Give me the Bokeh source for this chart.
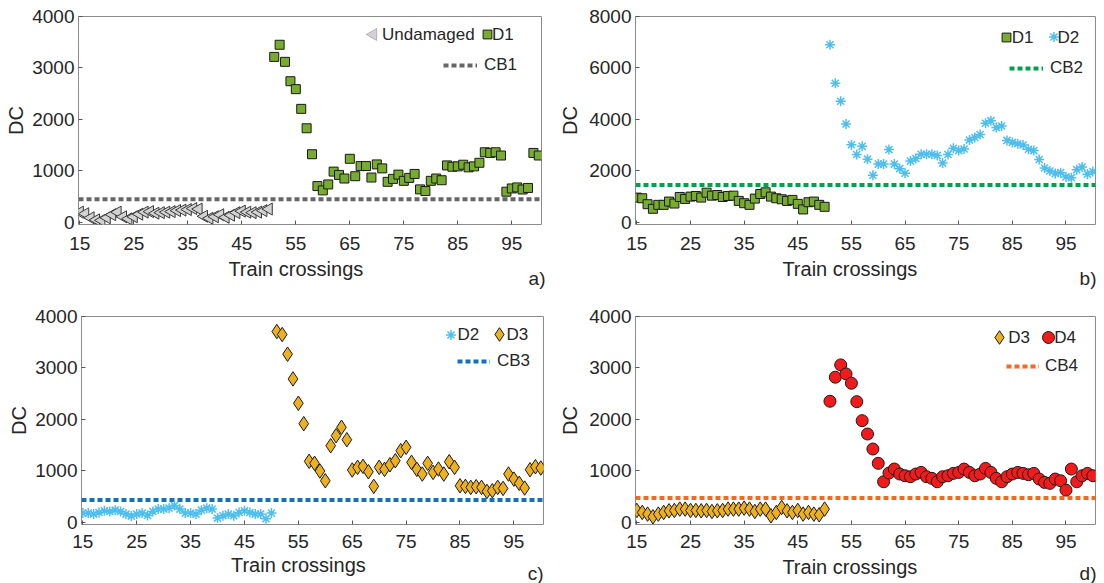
import numpy as np
from bokeh.plotting import figure
from bokeh.models import Legend, LegendItem, Label, FixedTicker, Range1d, PolyAnnotation
from bokeh.layouts import column, row
from bokeh.embed import file_html
from bokeh.resources import INLINE

# ---------------- data ----------------
crossings_before = list(range(15, 51))
crossings_after = list(range(51, 101))
x_ticks = [15, 25, 35, 45, 55, 65, 75, 85, 95]
y_ticks_4k = [0, 1000, 2000, 3000, 4000]
y_ticks_8k = [0, 2000, 4000, 6000, 8000]

undamaged = [200, 170, 90, 50, 40, 90, 150, 200, 110, 70, 110, 160, 200, 210, 180, 190, 200, 210,
             230, 240, 250, 270, 260, 120, 80, 110, 150, 100, 140, 190, 220, 200, 190, 200, 230, 260]
d1_after = [3215, 3451, 3119, 2743, 2589, 2206, 1829, 1325, 706, 623, 738, 987, 923, 853, 1236, 898,
            1095, 1095, 872, 1127, 1050, 789, 846, 929, 808, 865, 942, 642, 610, 808, 853, 820, 1108,
            1082, 1089, 1121, 1070, 1089, 1159, 1363, 1350, 1363, 1300, 597, 660, 680, 640, 670, 1350, 1300]
d1_before = [965, 939, 709, 530, 683, 683, 811, 734, 990, 913, 1003, 1028, 965, 1156, 1041, 1066, 990,
             1028, 1041, 837, 747, 683, 926, 1105, 1169, 1003, 939, 900, 837, 875, 722, 505, 785, 811, 683, 607]
d2_after = [6903, 5409, 4706, 3825, 3020, 2637, 2957, 2459, 1833, 2267, 2267, 2829, 2267, 2088, 1909, 2382,
            2484, 2650, 2650, 2650, 2599, 2305, 2637, 2880, 2791, 2854, 3199, 3301, 3416, 3851, 3953, 3685,
            3748, 3186, 3110, 3059, 3008, 2842, 2791, 2446, 2114, 2000, 1897, 1935, 1770, 1740, 2050, 2150,
            1870, 1980]
d2_before = [181, 181, 162, 194, 226, 213, 239, 213, 162, 123, 162, 181, 136, 213, 259, 259, 278, 330,
             259, 181, 181, 162, 239, 278, 259, 84, 129, 162, 129, 194, 226, 194, 162, 162, 71, 181]
d3_after = [3708, 3650, 3268, 2788, 2315, 1918, 1187, 1148, 998, 810, 1490, 1685, 1848, 1607, 1018, 1070,
            1089, 984, 700, 1070, 1031, 1121, 1198, 1393, 1459, 1167, 1031, 940, 1148, 972, 1037, 940,
            1179, 1070, 712, 700, 681, 694, 681, 603, 616, 681, 661, 940, 842, 759, 668, 1024, 1082, 1057]
d3_before = [233, 194, 162, 110, 162, 194, 226, 233, 259, 259, 233, 233, 226, 233, 213, 226, 233, 259,
             259, 259, 278, 259, 213, 259, 259, 129, 194, 291, 226, 194, 233, 162, 194, 162, 149, 259]
d4_after = [2354, 2821, 3060, 2885, 2704, 2346, 1977, 1718, 1426, 1148, 790, 959, 1037, 940, 907, 888,
            940, 972, 888, 856, 790, 888, 907, 953, 972, 1037, 972, 907, 940, 1050, 972, 856, 790, 888,
            940, 972, 953, 927, 953, 843, 778, 759, 843, 810, 628, 1037, 790, 907, 953, 907]
cb_values = {"CB1": 450, "CB2": 1450, "CB3": 434, "CB4": 473}
x_label = "Train crossings"
y_label = "DC"
panel_tags = ["a)", "b)", "c)", "d)"]

X_LIM = (14.75, 100.5)
XLABEL_AT = 55
Y_LIM_4K = (-40, 4000)
Y_LIM_8K = (-80, 8000)

FONT = "Liberation Sans"
TXT = "#262626"

C_UND_FILL, C_UND_LINE = "#d2d2d2", "#3a3a3a"
C_D1, C_D2, C_D3, C_D4 = "#77AC30", "#4DBEEE", "#EDB120", "#F21A1A"
C_CB1, C_CB2, C_CB3, C_CB4 = "#666666", "#00A14B", "#0F72BA", "#F46A1F"
EDGE = "#1a1a1a"


def make_fig(width, height, bl, bt, fw, fh, ylim, yticks, yl_standoff, xl_standoff):
    p = figure(width=width, height=height, x_range=Range1d(*X_LIM), y_range=Range1d(*ylim),
               output_backend="svg", toolbar_location=None, tools="",
               min_border_left=bl, min_border_top=bt, min_border_right=width - bl - fw,
               min_border_bottom=height - bt - fh)
    p.grid.visible = False
    p.outline_line_color = "#8c8c8c"
    p.outline_line_width = 1
    for ax in (p.xaxis[0], p.yaxis[0]):
        ax.axis_line_color = None
        ax.major_tick_in = 4
        ax.major_tick_out = 0
        ax.minor_tick_line_color = None
        ax.major_tick_line_color = "#555555"
        ax.major_label_text_font = FONT
        ax.major_label_text_font_size = "19px"
        ax.major_label_text_color = TXT
    p.xaxis.ticker = FixedTicker(ticks=x_ticks)
    p.yaxis.ticker = FixedTicker(ticks=yticks)
    p.xaxis.major_label_standoff = xl_standoff
    p.yaxis.major_label_standoff = 4
    p.yaxis.axis_label = y_label
    p.yaxis.axis_label_text_font = FONT
    p.yaxis.axis_label_text_font_size = "20px"
    p.yaxis.axis_label_text_font_style = "normal"
    p.yaxis.axis_label_text_color = TXT
    p.yaxis.axis_label_standoff = yl_standoff
    return p


def make_strip(width, height, bl, fw, tag, xl_y, tag_right, tag_y):
    """Strip under a panel that carries the x-axis title and the panel tag."""
    s = figure(width=width, height=height, x_range=Range1d(0, width), y_range=Range1d(0, height),
               output_backend="svg", toolbar_location=None, tools="",
               x_axis_type=None, y_axis_type=None, min_border=0)
    s.grid.visible = False
    s.outline_line_color = None
    xl_px = bl + (XLABEL_AT - X_LIM[0]) / (X_LIM[1] - X_LIM[0]) * fw
    s.add_layout(Label(x=xl_px, y=xl_y, x_units="screen", y_units="screen", text=x_label,
                       text_align="center", text_baseline="middle", text_font=FONT,
                       text_font_size="20px", text_color=TXT))
    s.add_layout(Label(x=tag_right, y=tag_y, x_units="screen", y_units="screen", text=tag,
                       text_align="right", text_baseline="middle", text_font=FONT,
                       text_font_size="19px", text_color=TXT))
    return s


def key_text(p, text, x, y):
    p.add_layout(Label(x=x, y=y, x_units="screen", y_units="screen", text=text,
                       text_align="left", text_baseline="middle", text_font=FONT,
                       text_font_size="17px", text_color=TXT))


def add_marker_key(p, fh, renderer, label, left, yc, g, text_x):
    """Legend swatch for a marker (size = 0.4*g), with its text placed right beside it."""
    lg = Legend(items=[LegendItem(label=" ", renderers=[renderer])],
                location=(left, fh - yc - max(g, 20) / 2), orientation="vertical",
                glyph_width=g, glyph_height=g, padding=0, margin=0, spacing=0, label_standoff=0,
                border_line_color=None, background_fill_alpha=0,
                label_text_font=FONT, label_text_font_size="17px", label_text_color=TXT)
    p.add_layout(lg)
    key_text(p, label, text_x, fh - yc)


def add_line_key(p, fh, renderer, label, left, yc, gw, standoff):
    lg = Legend(items=[LegendItem(label=label, renderers=[renderer])],
                location=(left, fh - yc - 10), orientation="vertical",
                glyph_width=gw, glyph_height=20, padding=0, margin=0, spacing=0,
                label_standoff=standoff, border_line_color=None, background_fill_alpha=0,
                label_text_font=FONT, label_text_font_size="17px", label_text_color=TXT)
    p.add_layout(lg)


def cb_line(p, value, color):
    return p.line(x=list(X_LIM), y=[value, value], line_color=color, line_width=4, line_dash="5 3")


WL, WR = 556, 548
FH = 208
HA = 258          # top panels
HS1 = 290 - HA    # strip under top panels
HC = 264          # bottom panels
HS2 = 583 - 290 - HC

# ---------------- panel a ----------------
pa = make_fig(WL, HA, 78, 16, 463, FH, Y_LIM_4K, y_ticks_4k, 2, 12)
r_cb1 = cb_line(pa, cb_values["CB1"], C_CB1)
r_und = pa.scatter(crossings_before, undamaged, marker="triangle", size=12, angle=np.pi / 2,
                   fill_color=C_UND_FILL, line_color=C_UND_LINE, line_width=1)
r_d1a = pa.scatter(crossings_after, d1_after, marker="square", size=9, fill_color=C_D1,
                   line_color=EDGE, line_width=1)
cx, cy, s = 294.7, FH - 18, 12
hh = s * np.sqrt(3) / 2
pa.add_layout(PolyAnnotation(xs=[cx - 2 * hh / 3, cx + hh / 3, cx + hh / 3],
                             ys=[cy, cy + s / 2, cy - s / 2], xs_units="screen", ys_units="screen",
                             fill_color=C_UND_FILL, fill_alpha=1, line_color=C_UND_LINE, line_width=1))
key_text(pa, "Undamaged", 303.5, FH - 18)
add_marker_key(pa, FH, r_d1a, "D1", 397.7, 18, 22, 413.5)
add_line_key(pa, FH, r_cb1, "CB1", 365, 49, 34, 7)
sa = make_strip(WL, HS1, 78, 463, panel_tags[0], HS1 - 10, 545, HS1 - 20)

# ---------------- panel b ----------------
pb = make_fig(WR, HA, 76, 16, 463, FH, Y_LIM_8K, y_ticks_8k, 5, 12)
r_cb2 = cb_line(pb, cb_values["CB2"], C_CB2)
r_d1b = pb.scatter(crossings_before, d1_before, marker="square", size=9, fill_color=C_D1,
                   line_color=EDGE, line_width=1)
r_d2b = pb.scatter(crossings_after, d2_after, marker="asterisk", size=10, line_color=C_D2,
                   line_width=1.5)
add_marker_key(pb, FH, r_d1b, "D1", 360.3, 20.7, 22, 376.3)
add_marker_key(pb, FH, r_d2b, "D2", 405.5, 20.7, 25, 422)
add_line_key(pb, FH, r_cb2, "CB2", 374, 52.3, 34, 7)
sb = make_strip(WR, HS1, 76, 463, panel_tags[1], HS1 - 10, 540, HS1 - 20)

# ---------------- panel c ----------------
pc = make_fig(WL, HC, 81, 26, 462, FH, Y_LIM_4K, y_ticks_4k, 2, 10)
r_cb3 = cb_line(pc, cb_values["CB3"], C_CB3)
r_d2c = pc.scatter(crossings_before, d2_before, marker="asterisk", size=10, line_color=C_D2,
                   line_width=1.5)
r_d3c = pc.scatter(crossings_after, d3_after, marker="diamond", size=14.5, fill_color=C_D3,
                   line_color=EDGE, line_width=1)
add_marker_key(pc, FH, r_d2c, "D2", 357.2, 18.3, 25, 375.9)
add_marker_key(pc, FH, r_d3c, "D3", 401.3, 18.3, 34, 425)
add_line_key(pc, FH, r_cb3, "CB3", 376, 44.7, 33, 7)
sc = make_strip(WL, HS2, 81, 462, panel_tags[2], HS2 - 10, 543, HS2 - 19)

# ---------------- panel d ----------------
pd_ = make_fig(WR, HC, 76, 26, 463, FH, Y_LIM_4K, y_ticks_4k, 5, 10)
r_cb4 = cb_line(pd_, cb_values["CB4"], C_CB4)
r_d3d = pd_.scatter(crossings_before, d3_before, marker="diamond", size=14.5, fill_color=C_D3,
                    line_color=EDGE, line_width=1)
r_d4d = pd_.scatter(crossings_after, d4_after, marker="circle", size=12, fill_color=C_D4,
                    line_color=EDGE, line_width=1)
add_marker_key(pd_, FH, r_d3d, "D3", 347, 20.7, 34, 372.8)
add_marker_key(pd_, FH, r_d4d, "D4", 398.4, 20.7, 30, 418.8)
add_line_key(pd_, FH, r_cb4, "CB4", 371, 49.7, 33, 6)
sd = make_strip(WR, HS2, 76, 463, panel_tags[3], HS2 - 12, 540, HS2 - 19)

layout = column(row(pa, pb), row(sa, sb), row(pc, pd_), row(sc, sd))
open("out.html", "w").write(file_html(layout, INLINE))
